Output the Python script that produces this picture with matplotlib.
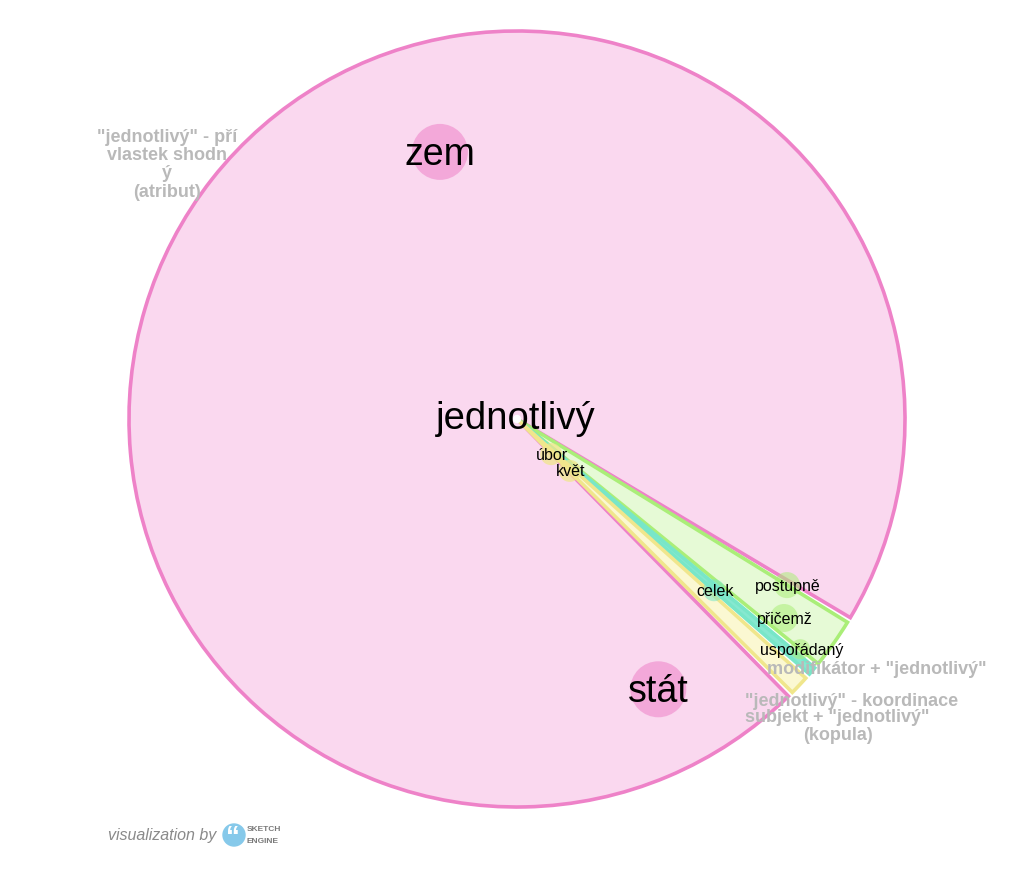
import matplotlib.pyplot as plt
from matplotlib.patches import Wedge, Circle
import numpy as np

plt.rcParams['font.family'] = ['Liberation Sans', 'DejaVu Sans']

headword = 'jednotlivý'

# relations (sectors), clockwise from the lower right
relations = ['"jednotlivý" - přívlastek shodný (atribut)',
             'modifikátor + "jednotlivý"',
             '"jednotlivý" - koordinace',
             'subjekt + "jednotlivý" (kopula)']
rel_share = [345.1, 7.5, 1.2, 2.9]
rel_fill = ['#fad8ef', '#e6fad6', '#86e8d0', '#fbf8d2']
rel_edge = ['#ee82c8', '#aaee78', '#78e6c8', '#f0e68c']

# collocates: relation index, angle (deg, clockwise from east), distance, circle size
words = ['zem', 'stát', 'postupně', 'přičemž', 'uspořádaný', 'celek', 'úbor', 'květ']
word_rel = [0, 0, 1, 1, 1, 2, 3, 3]
word_angle = [253.9, 62.4, 31.6, 36.7, 39.1, 41.0, 45.8, 44.5]
word_dist = [278, 305, 317, 333, 365, 261, 49, 74]
word_size = [28, 28, 13, 14, 10, 11, 11, 11]
big_words = ['zem', 'stát']

cx, cy, R = 517, 420, 388
start, gap = 45.6, 0.8

fig = plt.figure(figsize=(10.15, 8.78), dpi=100)
ax = fig.add_axes([0, 0, 1, 1])
ax.set_xlim(0, 1015)
ax.set_ylim(878, 0)
ax.axis('off')

scale = (360 - gap * len(rel_share)) / sum(rel_share)
t = start
for share, fc, ec in zip(rel_share, rel_fill, rel_edge):
    t2 = t + share * scale
    ax.add_patch(Wedge((cx, cy), R, t, t2, facecolor=fc, edgecolor=ec, lw=2.6, zorder=1))
    t = t2 + gap

ax.add_patch(Circle((cx, cy), 3.5, color='white', zorder=2))

for w, ri, a, d, s in zip(words, word_rel, word_angle, word_dist, word_size):
    x = cx + d * np.cos(np.radians(a))
    y = cy + d * np.sin(np.radians(a))
    alpha = 0.55 if ri != 3 else 0.75
    ax.add_patch(Circle((x, y), s, facecolor=rel_edge[ri], alpha=alpha, lw=0, zorder=3))
    if w in big_words:
        ax.text(x, y + 2, w, fontsize=27, ha='center', va='center', zorder=5)
    else:
        ax.text(x + 1, y, w, fontsize=11.5, ha='center', va='center', zorder=5)

ax.text(cx - 1, cy - 1, headword, fontsize=27.5, ha='center', va='center', zorder=6)

gray = '#b9b9b9'
lab = dict(fontsize=13, fontweight='bold', color=gray, ha='center', va='center', zorder=7)
for i, line in enumerate(['"jednotlivý" - pří', 'vlastek shodn', 'ý', '(atribut)']):
    ax.text(167, 137 + i * 18.5, line, **lab)
ax.text(877, 670, 'modifikátor + "jednotlivý"', **lab)
ax.text(852, 702, '"jednotlivý" - koordinace', **lab)
ax.text(837, 718, 'subjekt + "jednotlivý"', **lab)
ax.text(838, 736, '(kopula)', **lab)

# footer
ax.text(108, 836, 'visualization by', fontsize=11.5, style='italic', color='#8a8a8a',
        ha='left', va='center')
ax.add_patch(Circle((234, 836), 11, color='#86c9ea'))
ax.text(233, 838, '“', fontsize=20, fontweight='bold', color='white', ha='center', va='center')
ax.text(247, 830, 'SKETCH', fontsize=6, fontweight='bold', color='#7a7a7a', ha='left', va='center')
ax.text(247, 842, 'ENGINE', fontsize=6, fontweight='bold', color='#7a7a7a', ha='left', va='center')

fig.savefig('out.png', dpi=100)
